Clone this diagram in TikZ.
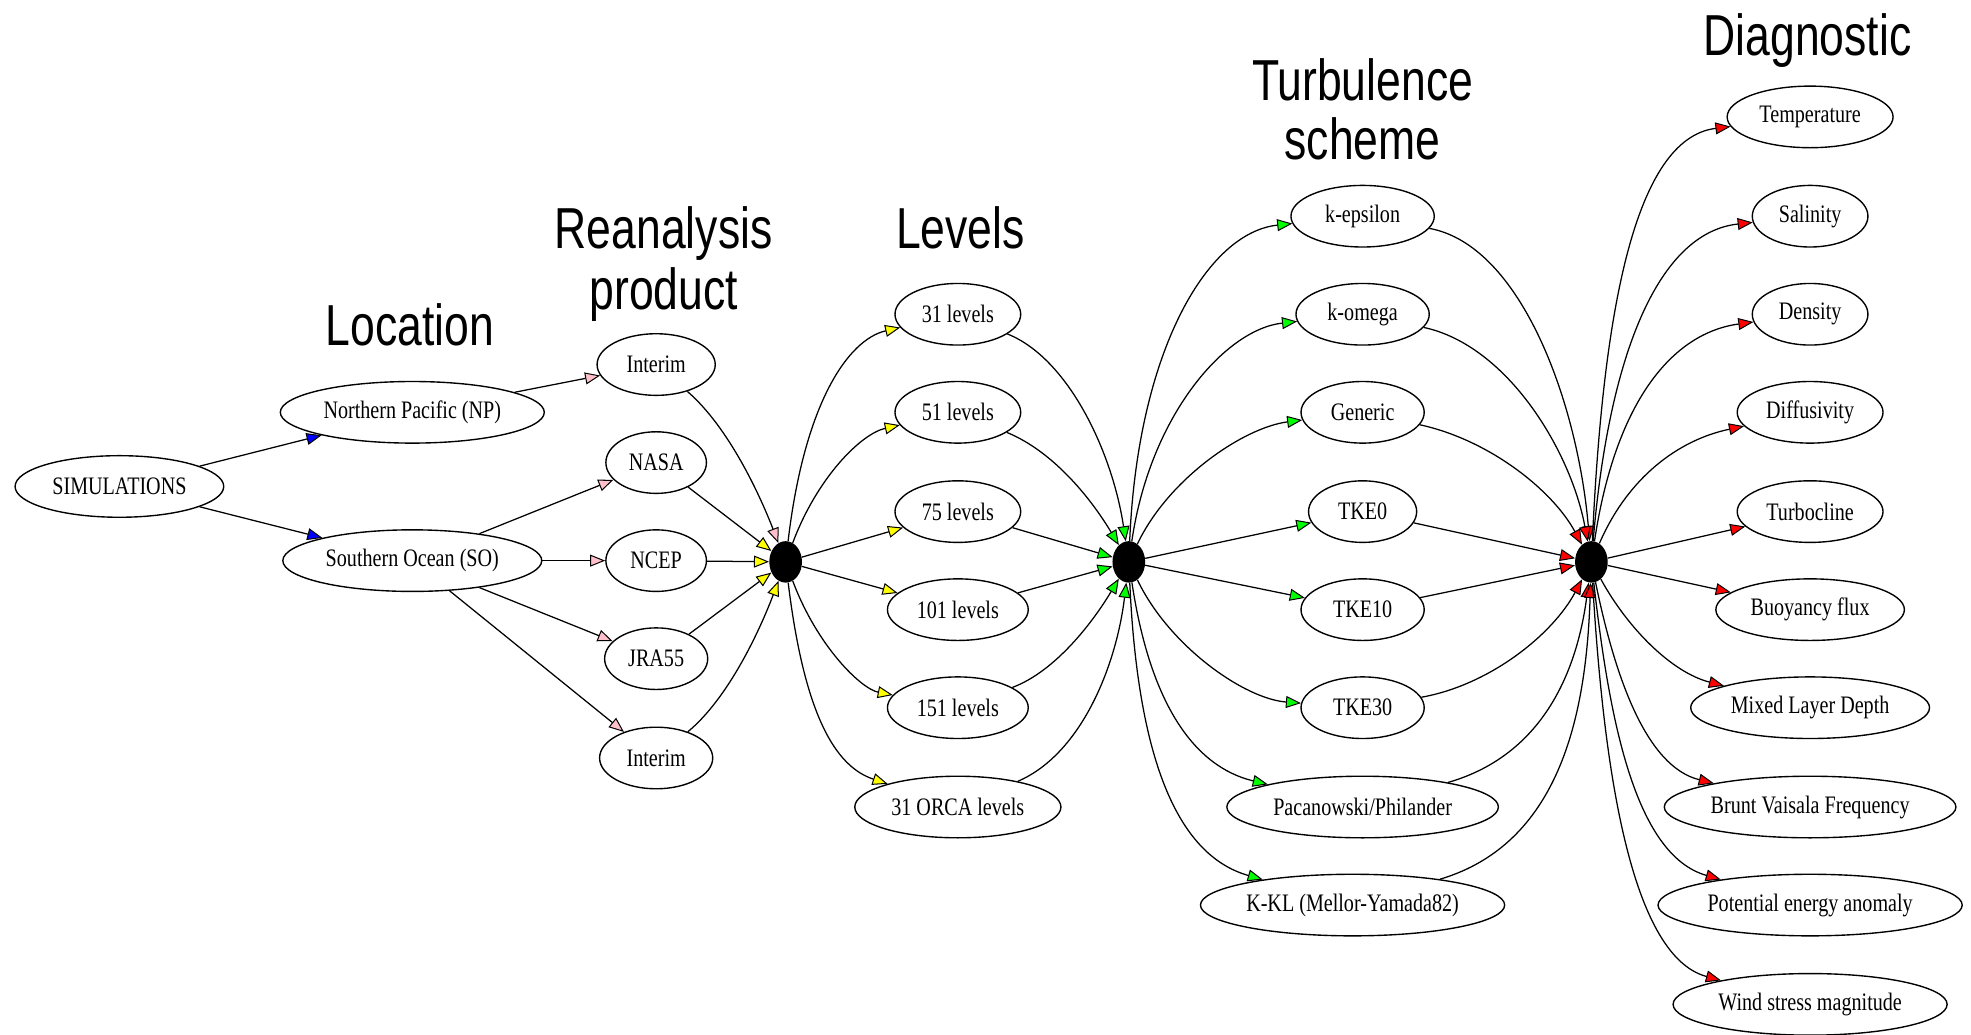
\documentclass[tikz,border=0pt]{standalone}
\usepackage{fontspec}
\newfontfamily\nodefont[FakeStretch=0.8]{Liberation Serif}
\newfontfamily\titlefont[FakeStretch=0.77]{Liberation Sans}
\usetikzlibrary{shapes.geometric,arrows.meta}
\definecolor{gvblue}{HTML}{0000FF}
\definecolor{gvpink}{HTML}{FFC0CB}
\definecolor{gvyellow}{HTML}{FFFF00}
\definecolor{gvgreen}{HTML}{00FF00}
\definecolor{gvred}{HTML}{FF0000}
\begin{document}
\begin{tikzpicture}[x=1bp,y=-1bp,
  nd/.style={ellipse, draw, line width=1.1bp, inner sep=0pt, minimum height=49bp,
    font=\nodefont\fontsize{20bp}{24bp}\selectfont},
  wd/.style={minimum width=#1bp},
  hub/.style={ellipse, fill=black, inner sep=0pt, minimum width=26bp, minimum height=33bp},
  ttl/.style={anchor=base, inner sep=0pt, font=\titlefont\fontsize{46bp}{50bp}\selectfont},
  tip/.style={line width=1bp, -{Triangle[length=12bp,width=9.5bp,fill=#1,line width=0.8bp]}}
]
\useasboundingbox (0,0) rectangle (1568,823);
% titles
\node[ttl] (tloc) at (326,275) {Location};
\node[ttl] (trea1) at (528,198) {Reanalysis};
\node[ttl] (trea2) at (528,246) {product};
\node[ttl] (tlev) at (764,198) {Levels};
\node[ttl] (ttur1) at (1084,80) {Turbulence};
\node[ttl] (ttur2) at (1084,127) {scheme};
\node[ttl] (tdia) at (1438,44) {Diagnostic};
% nodes
\node[nd,wd=166] (sim) at (95,387) {SIMULATIONS};
\node[nd,wd=210] (np) at (328,328) {Northern Pacific (NP)};
\node[nd,wd=206] (so) at (328,446) {Southern Ocean (SO)};
\node[nd,wd=94] (r1) at (522,290) {Interim};
\node[nd,wd=80] (r2) at (522,368) {NASA};
\node[nd,wd=80] (r3) at (522,446) {NCEP};
\node[nd,wd=82] (r4) at (522,524) {JRA55};
\node[nd,wd=90] (r5) at (522,603) {Interim};
\node[hub] (h1) at (625,447) {};
\node[nd,wd=100] (l1) at (762,250) {31 levels};
\node[nd,wd=100] (l2) at (762,328) {51 levels};
\node[nd,wd=100] (l3) at (762,407) {75 levels};
\node[nd,wd=112] (l4) at (762,485) {101 levels};
\node[nd,wd=112] (l5) at (762,563) {151 levels};
\node[nd,wd=164] (l6) at (762,642) {31 ORCA levels};
\node[hub] (h2) at (898,447) {};
\node[nd,wd=114] (t1) at (1084,172) {k-epsilon};
\node[nd,wd=106] (t2) at (1084,250) {k-omega};
\node[nd,wd=98] (t3) at (1084,328) {Generic};
\node[nd,wd=86] (t4) at (1084,407) {TKE0};
\node[nd,wd=98] (t5) at (1084,485) {TKE10};
\node[nd,wd=98] (t6) at (1084,563) {TKE30};
\node[nd,wd=216] (t7) at (1084,642) {Pacanowski/Philander};
\node[nd,wd=242] (t8) at (1076,720) {K-KL (Mellor-Yamada82)};
\node[hub] (h3) at (1266,447) {};
\node[nd,wd=132] (d1) at (1440,93) {Temperature};
\node[nd,wd=92] (d2) at (1440,172) {Salinity};
\node[nd,wd=92] (d3) at (1440,250) {Density};
\node[nd,wd=116] (d4) at (1440,328) {Diffusivity};
\node[nd,wd=116] (d5) at (1440,407) {Turbocline};
\node[nd,wd=150] (d6) at (1440,485) {Buoyancy flux};
\node[nd,wd=190] (d7) at (1440,563) {Mixed Layer Depth};
\node[nd,wd=232] (d8) at (1440,642) {Brunt Vaisala Frequency};
\node[nd,wd=242] (d9) at (1440,720) {Potential energy anomaly};
\node[nd,wd=218] (d10) at (1440,799) {Wind stress magnitude};
% edges: simulations -> location
\draw[tip=gvblue] (sim) -- (np);
\draw[tip=gvblue] (sim) -- (so);
% location -> reanalysis
\draw[tip=gvpink] (np) -- (r1);
\draw[tip=gvpink] (so) -- (r2);
\draw[tip=gvpink] (so) -- (r3);
\draw[tip=gvpink] (so) -- (r4);
\draw[tip=gvpink] (so) -- (r5);
% reanalysis -> hub1
\draw[tip=gvpink] (r1) .. controls (580,340) and (605,395) .. (h1);
\draw[tip=gvyellow] (r2) -- (h1);
\draw[tip=gvyellow] (r3) -- (h1);
\draw[tip=gvyellow] (r4) -- (h1);
\draw[tip=gvyellow] (r5) .. controls (580,555) and (605,500) .. (h1);
% hub1 -> levels
\draw[tip=gvyellow] (h1) .. controls (640,320) and (675,270) .. (l1);
\draw[tip=gvyellow] (h1) .. controls (650,380) and (685,345) .. (l2);
\draw[tip=gvyellow] (h1) -- (l3);
\draw[tip=gvyellow] (h1) -- (l4);
\draw[tip=gvyellow] (h1) .. controls (650,514) and (685,548) .. (l5);
\draw[tip=gvyellow] (h1) .. controls (640,570) and (665,610) .. (l6);
% levels -> hub2
\draw[tip=gvgreen] (l1) .. controls (850,285) and (885,360) .. (h2);
\draw[tip=gvgreen] (l2) .. controls (840,360) and (870,400) .. (h2);
\draw[tip=gvgreen] (l3) -- (h2);
\draw[tip=gvgreen] (l4) -- (h2);
\draw[tip=gvgreen] (l5) .. controls (840,534) and (870,494) .. (h2);
\draw[tip=gvgreen] (l6) .. controls (860,600) and (888,530) .. (h2);
% hub2 -> turbulence
\draw[tip=gvgreen] (h2) .. controls (905,280) and (960,185) .. (t1);
\draw[tip=gvgreen] (h2) .. controls (915,330) and (975,262) .. (t2);
\draw[tip=gvgreen] (h2) .. controls (930,380) and (990,340) .. (t3);
\draw[tip=gvgreen] (h2) -- (t4);
\draw[tip=gvgreen] (h2) -- (t5);
\draw[tip=gvgreen] (h2) .. controls (930,514) and (990,556) .. (t6);
\draw[tip=gvgreen] (h2) .. controls (915,560) and (950,610) .. (t7);
\draw[tip=gvgreen] (h2) .. controls (905,600) and (935,680) .. (t8);
% turbulence -> hub3
\draw[tip=gvred] (t1) .. controls (1210,195) and (1255,320) .. (h3);
\draw[tip=gvred] (t2) .. controls (1200,275) and (1250,360) .. (h3);
\draw[tip=gvred] (t3) .. controls (1185,350) and (1235,390) .. (h3);
\draw[tip=gvred] (t4) -- (h3);
\draw[tip=gvred] (t5) -- (h3);
\draw[tip=gvred] (t6) .. controls (1185,545) and (1235,505) .. (h3);
\draw[tip=gvred] (t7) .. controls (1230,600) and (1255,530) .. (h3);
\draw[tip=gvred] (t8) .. controls (1245,670) and (1262,560) .. (h3);
% hub3 -> diagnostics
\draw[tip=gvred] (h3) .. controls (1275,250) and (1300,110) .. (d1);
\draw[tip=gvred] (h3) .. controls (1280,280) and (1320,185) .. (d2);
\draw[tip=gvred] (h3) .. controls (1285,320) and (1330,265) .. (d3);
\draw[tip=gvred] (h3) .. controls (1295,380) and (1335,350) .. (d4);
\draw[tip=gvred] (h3) -- (d5);
\draw[tip=gvred] (h3) -- (d6);
\draw[tip=gvred] (h3) .. controls (1295,500) and (1330,535) .. (d7);
\draw[tip=gvred] (h3) .. controls (1285,540) and (1310,610) .. (d8);
\draw[tip=gvred] (h3) .. controls (1280,570) and (1300,680) .. (d9);
\draw[tip=gvred] (h3) .. controls (1275,600) and (1295,760) .. (d10);
\end{tikzpicture}
\end{document}
